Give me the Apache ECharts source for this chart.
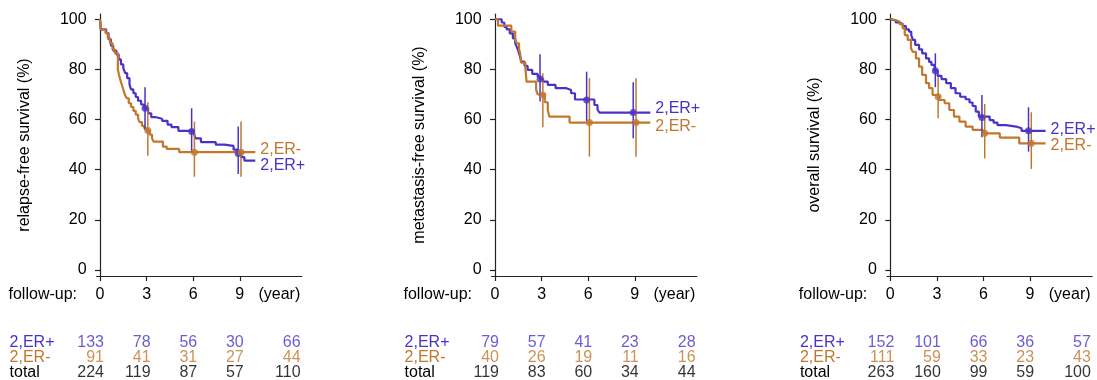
<!DOCTYPE html>
<html><head><meta charset="utf-8">
<script src="https://cdn.jsdelivr.net/npm/echarts@6/dist/echarts.min.js"></script>
<style>html,body{margin:0;padding:0;background:#fff}#c{width:1097px;height:380px}</style>
</head><body><div id="c"></div>
<script>
// ---------- data ----------
const panelTitles = ['relapse-free survival (%)', 'metastasis-free survival (%)', 'overall survival (%)'];
const groupNames = ['2,ER+', '2,ER-'];
const xTicks = [0, 3, 6, 9];
const yTicks = [0, 20, 40, 60, 80, 100];
const tableRows = ['2,ER+', '2,ER-', 'total'];
const tableColT = [0, 3, 6, 9, 12.66];

// relapse-free survival: [year, %]
const rfsPos = [[0,100],[0.05,96],[0.4,94.5],[0.55,92],[0.7,89.5],[0.85,87.5],[1.05,86],[1.2,84],[1.35,82],[1.5,80.5],[1.62,78.5],[1.75,76.5],[1.9,74],[2.0,72],[2.15,70.5],[2.3,69],[2.45,67.5],[2.65,66],[2.85,64.5],[3.1,62.5],[3.3,61],[3.55,60.3],[4.0,59.5],[4.35,58],[4.6,57],[5.05,55.5],[6.05,54.5],[6.15,52.5],[6.5,51],[7.45,50],[8.0,49.5],[8.6,48],[8.85,46.5],[9.1,45],[9.3,43.6],[10,43.6]];
const rfsNeg = [[0,100],[0.05,96],[0.35,94.5],[0.5,92.5],[0.65,90.5],[0.8,88],[0.95,86.5],[1.15,80],[1.22,78],[1.3,76],[1.4,74],[1.5,72],[1.6,70],[1.72,68.5],[1.85,66.5],[2.0,65],[2.15,63.5],[2.3,62],[2.45,60.5],[2.55,59],[2.7,57.5],[2.85,56.5],[3.0,55.6],[3.2,54],[3.35,52.5],[3.45,51.2],[4.05,49.2],[4.3,48.3],[5.1,47],[10,47]];
const rfsPosPt = [64.5, 55.2, 46.5];
const rfsNegPt = [55.6, 47, 47];
const rfsPosCI = [[72.9,55.9],[64.5,47.2],[57.2,38.3]];
const rfsNegCI = [[66.9,45.6],[59.2,37.2],[59.2,37.2]];

// metastasis-free survival
const mfsPos = [[0,100],[0.43,98.7],[0.6,97],[0.75,96],[0.95,94.4],[1.15,92.4],[1.3,90.5],[1.4,89],[1.5,87.5],[1.58,85.8],[1.7,83.1],[1.9,81.4],[2.1,79.8],[2.4,78.2],[2.75,77.1],[2.9,76.2],[3.1,75.1],[3.4,73.8],[3.9,72.5],[4.6,71.8],[4.9,70.5],[5.15,68],[6.4,65.8],[6.6,64],[6.72,62.8],[10,62.8]];
const mfsNeg = [[0,100],[0.2,97.5],[1.05,95.1],[1.3,92],[1.4,90.4],[1.55,88],[1.62,86.4],[1.68,82.7],[1.95,81.1],[2.03,75.1],[2.65,71.8],[2.75,70],[3.2,66.9],[3.4,63.6],[3.5,61.2],[4.8,58.8],[10,58.8]];
const mfsPosPt = [76.2, 67.8, 62.8];
const mfsNegPt = [69.8, 58.8, 58.8];
const mfsPosCI = [[86,67.2],[79.1,59.2],[74.9,52.5]];
const mfsNegCI = [[78.5,56.9],[76.5,45.2],[76.5,45.2]];

// overall survival
const osPos = [[0,100],[0.1,99.5],[0.35,98.7],[0.6,98.1],[0.8,97.3],[1.0,96],[1.2,95.1],[1.35,93.7],[1.45,91.8],[1.6,89.8],[1.85,88],[2.05,86.4],[2.3,84.4],[2.5,83],[2.65,81.8],[2.85,79.5],[3.05,77.4],[3.3,76.1],[3.6,74.5],[3.9,72.5],[4.2,70.5],[4.5,69.1],[4.85,68.1],[5.1,66.8],[5.3,65.4],[5.5,63.2],[5.7,61.2],[6.4,59.8],[6.65,58.8],[6.9,57.8],[7.45,57.2],[8.1,56.5],[8.45,55.5],[10,55.5]];
const osNeg = [[0,100],[0.15,99.5],[0.4,99.1],[0.6,98.1],[0.8,96.4],[0.93,93.7],[1.12,91.8],[1.33,88.4],[1.45,87],[1.65,84.4],[1.85,81.1],[2.05,77.8],[2.3,74.5],[2.5,72.5],[2.72,69.8],[3.0,69.1],[3.15,67.8],[3.5,66.5],[3.8,63.8],[4.1,61.2],[4.45,59.2],[4.85,57.2],[5.3,55.9],[5.95,54.5],[7.05,52.8],[8.3,50.5],[10,50.5]];
const osPosPt = [79.5, 60.8, 55.5];
const osNegPt = [69.1, 54.5, 50.5];
const osPosCI = [[86.4,72.9],[69.8,52.9],[64.9,47.2]];
const osNegCI = [[76.9,60.5],[66.2,44.5],[62.9,40.3]];

// numbers at risk table
const rfsTable = [[133,78,56,30,66],[91,41,31,27,44],[224,119,87,57,110]];
const mfsTable = [[79,57,41,23,28],[40,26,19,11,16],[119,83,60,34,44]];
const osTable  = [[152,101,66,36,57],[111,59,33,23,43],[263,160,99,59,100]];

// ---------- styling / layout ----------
const FONT = '"Liberation Sans", Arial, sans-serif';
const FS = 16;
const BLUE = '#4a32c4', ORANGE = '#c1772e', INK = '#000';
const rowColors = [BLUE, ORANGE, INK];
const X0 = [100, 495, 890.3];
const PXY = 15.53;
const XMIN = -0.22, XMAX = 13;
const YMIN = -2.4, YMAX = 102.1;
const dotShift = [-0.1, 0.08];
const endLabelDy = [[4.5, -3], [-3.5, 4], [-1, 2.3]];

const panels = [
  {curves:[rfsPos, rfsNeg], pts:[rfsPosPt, rfsNegPt], ci:[rfsPosCI, rfsNegCI], table: rfsTable},
  {curves:[mfsPos, mfsNeg], pts:[mfsPosPt, mfsNegPt], ci:[mfsPosCI, mfsNegCI], table: mfsTable},
  {curves:[osPos, osNeg], pts:[osPosPt, osNegPt], ci:[osPosCI, osNegCI], table: osTable}
];

const grid = [], xAxis = [], yAxis = [], series = [], graphic = [];
const gw = (XMAX - XMIN) * PXY;
panels.forEach((p, i) => {
  const gl = X0[i] + XMIN * PXY;
  grid.push({left: gl, top: 14, width: gw, height: 262});
  xAxis.push({
    type: 'value', gridIndex: i, min: XMIN, max: XMAX,
    axisLine: {show: true, onZero: false, lineStyle: {color: '#222', width: 1.2}},
    axisTick: {show: true, length: 5, customValues: xTicks, lineStyle: {color: '#222', width: 1.2}},
    axisLabel: {show: true, customValues: xTicks.concat([11.55]), formatter: v => v > 10 ? '(year)' : String(v),
      margin: 11, fontSize: FS, fontFamily: FONT, color: INK},
    splitLine: {show: false}
  });
  yAxis.push({
    type: 'value', gridIndex: i, min: YMIN, max: YMAX,
    name: panelTitles[i], nameLocation: 'middle', nameGap: 64, nameRotate: 90,
    nameTextStyle: {fontSize: FS, fontFamily: FONT, color: INK},
    axisLine: {show: true, lineStyle: {color: '#222', width: 1.2}},
    axisTick: {show: true, length: 5, customValues: yTicks, lineStyle: {color: '#222', width: 1.2}},
    axisLabel: {show: true, customValues: yTicks, margin: 10, fontSize: FS, fontFamily: FONT, color: INK},
    splitLine: {show: false}
  });
  graphic.push({type: 'text', x: X0[i] - 23, y: 295,
    style: {text: 'follow-up:', align: 'right', verticalAlign: 'middle', font: FS + 'px ' + FONT, fill: INK}});

  [0, 1].forEach(g => {
    const col = g === 0 ? BLUE : ORANGE;
    series.push({
      type: 'line', name: groupNames[g], xAxisIndex: i, yAxisIndex: i, step: 'end',
      data: p.curves[g], showSymbol: false, symbol: 'none', z: 2,
      lineStyle: {color: col, width: 2.2}, itemStyle: {color: col},
      endLabel: {show: true, formatter: groupNames[g], color: col, fontSize: FS, fontFamily: FONT,
        distance: 5, offset: [0, endLabelDy[i][g]]}
    });
    series.push({
      type: 'custom', xAxisIndex: i, yAxisIndex: i, z: 3,
      data: p.ci[g].map((c, k) => [xTicks[k + 1] + dotShift[g], c[0], c[1]]),
      encode: {x: 0, y: [1, 2]},
      renderItem: (params, api) => {
        const a = api.coord([api.value(0), api.value(1)]);
        const b = api.coord([api.value(0), api.value(2)]);
        return {type: 'line', shape: {x1: a[0], y1: a[1], x2: b[0], y2: b[1]}, style: {stroke: col, lineWidth: 1.5}};
      }
    });
    series.push({
      type: 'scatter', xAxisIndex: i, yAxisIndex: i, z: 4, symbolSize: 7,
      itemStyle: {color: col},
      data: p.pts[g].map((s, k) => [xTicks[k + 1] + dotShift[g], s])
    });
  });
});

// table grids
panels.forEach((p, i) => {
  const gi = 3 + i;
  const gl = X0[i] + XMIN * PXY;
  grid.push({left: gl, top: 335, width: gw, height: 47.4});
  xAxis.push({type: 'value', gridIndex: gi, min: XMIN, max: XMAX, show: false});
  yAxis.push({
    type: 'category', gridIndex: gi, data: tableRows, inverse: true,
    axisLine: {show: false}, axisTick: {show: false}, splitLine: {show: false},
    axisLabel: {show: true, interval: 0, hideOverlap: false, align: 'left', margin: 87, fontSize: FS, fontFamily: FONT,
      color: (v) => rowColors[tableRows.indexOf(v)]}
  });
  tableRows.forEach((r, ri) => {
    series.push({
      type: 'scatter', xAxisIndex: gi, yAxisIndex: gi, symbolSize: 0, silent: true,
      data: tableColT.map((t, k) => [t, r, p.table[ri][k]]),
      label: {show: true, position: 'left', distance: -4, formatter: d => String(d.data[2]),
        color: rowColors[ri], fontSize: FS, fontFamily: FONT}
    });
  });
});

const chart = echarts.init(document.getElementById('c'), null, {renderer: 'canvas'});
chart.setOption({animation: false, backgroundColor: '#fff', grid, xAxis, yAxis, series, graphic});
</script></body></html>
